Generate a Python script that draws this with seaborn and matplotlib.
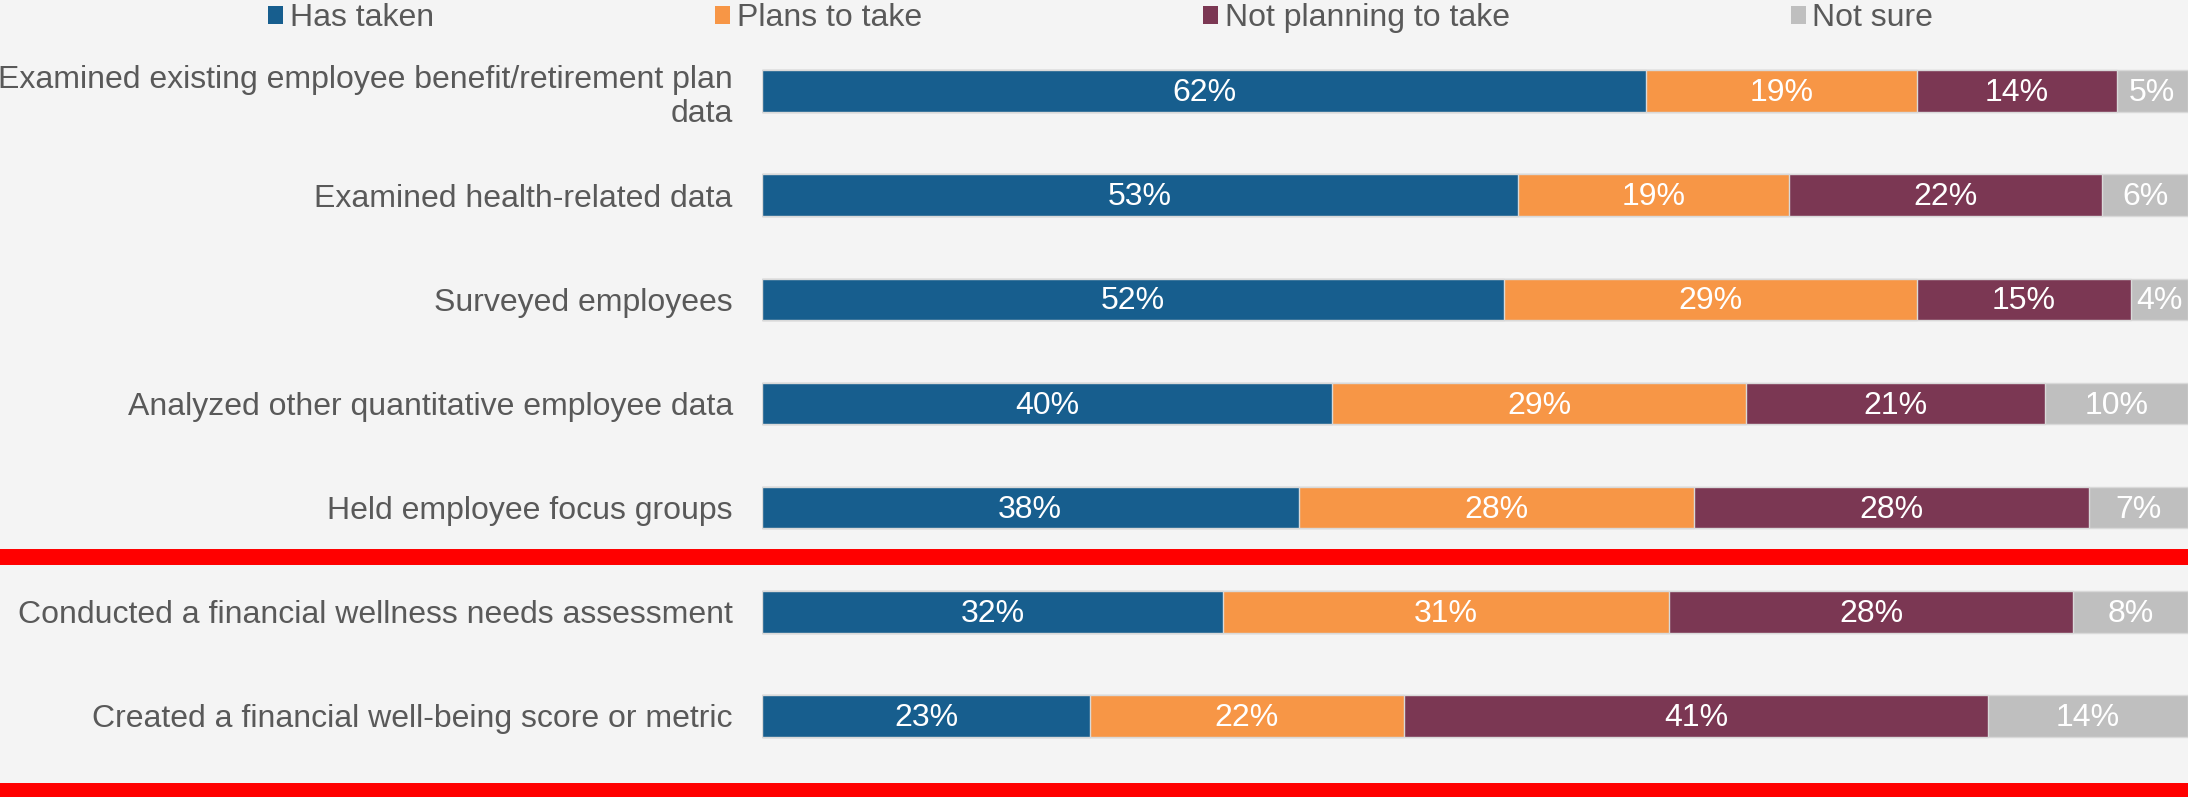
import numpy as np
import pandas as pd
import matplotlib
matplotlib.use("Agg")
import matplotlib.pyplot as plt
import seaborn as sns
from matplotlib.patches import Patch
from matplotlib.transforms import blended_transform_factory, offset_copy

# ---- data ----
categories = [
    "Examined existing employee benefit/retirement plan\ndata",
    "Examined health-related data",
    "Surveyed employees",
    "Analyzed other quantitative employee data",
    "Held employee focus groups",
    "Conducted a financial wellness needs assessment",
    "Created a financial well-being score or metric",
]
has_taken = [62, 53, 52, 40, 38, 32, 23]
plans_to_take = [19, 19, 29, 29, 28, 31, 22]
not_planning = [14, 22, 15, 21, 28, 28, 41]
not_sure = [5, 6, 4, 10, 7, 8, 14]
series_names = ["Has taken", "Plans to take", "Not planning to take", "Not sure"]
colors = ["#175E8E", "#F79646", "#7B3753", "#BFBFBF"]

BG = "#F4F4F4"
TXT = "#595959"
FS = 23

sns.set_style("white")
plt.rcParams["font.family"] = ["Liberation Sans", "DejaVu Sans"]

raw = np.array([has_taken, plans_to_take, not_planning, not_sure], dtype=float)
share = raw / raw.sum(axis=0) * 100.0          # 100% stacked
cum = np.cumsum(share, axis=0)

df = pd.DataFrame({"category": categories})
for i, name in enumerate(series_names):
    df[name + "_cum"] = cum[i]

W, H = 2188, 797
fig = plt.figure(figsize=(W / 100, H / 100), dpi=100, facecolor=BG)
ax_left, ax_top, ax_bot = 762, 39, 768
ax = fig.add_axes([ax_left / W, 1 - ax_bot / H, 1 - ax_left / W, (ax_bot - ax_top) / H])
ax.set_facecolor(BG)

# draw cumulative layers from the longest to the shortest
for i in reversed(range(len(series_names))):
    sns.barplot(data=df, x=series_names[i] + "_cum", y="category", order=categories,
                orient="h", color=colors[i], saturation=1, width=0.4,
                edgecolor="#D9D9D9", linewidth=1.0, ax=ax)

# value labels
starts = cum - share
txt_tr = offset_copy(ax.transData, fig=fig, x=0, y=-2, units="dots")
for i in range(len(series_names)):
    for j in range(len(categories)):
        ax.text(starts[i, j] + share[i, j] / 2, j, f"{int(raw[i, j])}%",
                ha="center", va="center", color="white", fontsize=FS, transform=txt_tr)

ax.set_xlim(0, 100)
ax.set_ylim(len(categories) - 0.5, -0.5)
ax.set_xlabel("")
ax.set_ylabel("")
ax.set_xticks([])
ax.tick_params(axis="y", length=0, pad=21, labelsize=FS, labelcolor=TXT)
for lbl in ax.get_yticklabels():
    lbl.set_horizontalalignment("right")
    lbl.set_linespacing(1.2)
for s in ax.spines.values():
    s.set_visible(False)

# red separator lines spanning the full figure width
tr = blended_transform_factory(fig.transFigure, ax.transData)
for yv in [4.475, 6.72]:
    ax.plot([0, 1], [yv, yv], transform=tr, color="#FF0000", lw=11.5,
            solid_capstyle="butt", clip_on=False)

# legend
handles = [Patch(facecolor=c, edgecolor="none") for c in colors]
leg = fig.legend(handles, series_names, loc="center", bbox_to_anchor=(0.503, 1 - 18 / H),
                 ncol=4, frameon=False, fontsize=FS, handlelength=0.48, handleheight=0.48,
                 handletextpad=0.2, columnspacing=8.8, borderpad=0, labelcolor=TXT)

fig.savefig("out.png", dpi=100, facecolor=BG)
